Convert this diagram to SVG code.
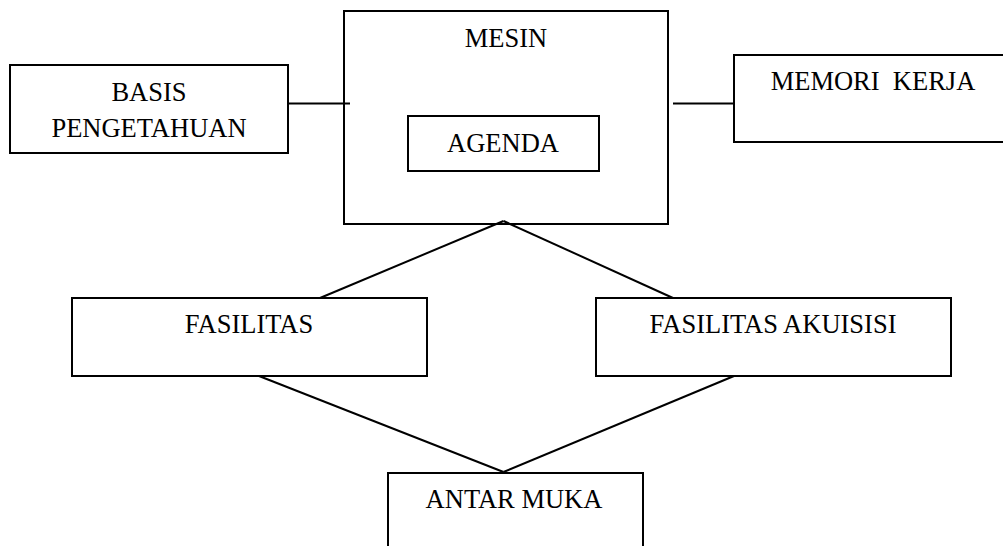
<svg xmlns="http://www.w3.org/2000/svg" width="1003" height="546" viewBox="0 0 1003 546">
<style>
rect{fill:#fff;stroke:#000;stroke-width:2}
line{stroke:#000;stroke-width:2}
text{font-family:"Liberation Serif","Times New Roman",serif;font-size:26.5px;fill:#000;text-anchor:middle}
</style>
<rect x="0" y="0" width="1003" height="546" style="stroke:none"/>
<g id="basis">
<rect x="10" y="65" width="278" height="88"/>
<text x="149" y="101">BASIS</text>
<text x="149" y="137">PENGETAHUAN</text>
</g>
<g id="mesin">
<rect x="344" y="11" width="324" height="213"/>
<text x="506" y="47">MESIN</text>
</g>
<g id="agenda">
<rect x="408" y="116" width="191" height="55"/>
<text x="503" y="152">AGENDA</text>
</g>
<g id="memori">
<rect x="734" y="55" width="290" height="87"/>
<text x="873" y="90" style="white-space:pre">MEMORI  KERJA</text>
</g>
<g id="fasilitas">
<rect x="72" y="298" width="355" height="78"/>
<text x="249" y="333">FASILITAS</text>
</g>
<g id="fasilitas-akuisisi">
<rect x="596" y="298" width="355" height="78"/>
<text x="773" y="333">FASILITAS AKUISISI</text>
</g>
<g id="antar-muka">
<rect x="388" y="473" width="255" height="90"/>
<text x="514" y="508">ANTAR MUKA</text>
</g>
<g id="connectors">
<line x1="288" y1="103.5" x2="350" y2="103.5"/>
<line x1="673" y1="103.5" x2="734" y2="103.5"/>
<line x1="503.5" y1="221" x2="320" y2="298"/>
<line x1="503.5" y1="221" x2="673" y2="298"/>
<line x1="259" y1="376" x2="503.5" y2="472"/>
<line x1="734" y1="376" x2="503.5" y2="472"/>
</g>
</svg>
